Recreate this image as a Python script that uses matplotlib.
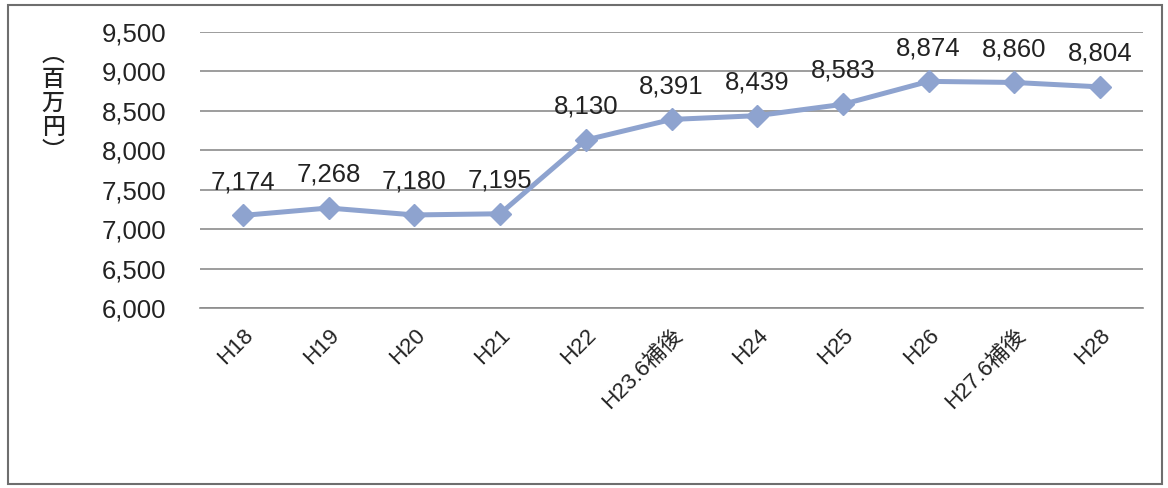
import matplotlib.pyplot as plt
from matplotlib.patches import Rectangle

plt.rcParams['font.family'] = ['Liberation Sans', 'Noto Sans CJK JP', 'DejaVu Sans']

categories = ['H18', 'H19', 'H20', 'H21', 'H22', 'H23.6補後', 'H24', 'H25', 'H26', 'H27.6補後', 'H28']
values = [7174, 7268, 7180, 7195, 8130, 8391, 8439, 8583, 8874, 8860, 8804]
yticks = [6000, 6500, 7000, 7500, 8000, 8500, 9000, 9500]
ylabel_chars = ['︵', '百', '万', '円', '︶']

line_color = '#8ea3cf'
grid_color = '#8c8c8c'
text_color = '#222222'

fig = plt.figure(figsize=(11.68, 4.88), dpi=100)
ax = fig.add_axes([200 / 1168, 1 - 308 / 488, 943 / 1168, 276 / 488])

x = list(range(len(categories)))
ax.plot(x, values, color=line_color, lw=3.6, marker='D', markersize=11,
        markerfacecolor=line_color, markeredgecolor=line_color, zorder=3)

for xi, v in zip(x, values):
    ax.annotate(f'{v:,}', (xi, v), xytext=(0, 24), textcoords='offset points',
                ha='center', va='center', fontsize=18.5, color=text_color)

ax.set_xlim(-0.5, len(categories) - 0.5)
ax.set_ylim(yticks[0], yticks[-1])
ax.set_yticks(yticks)
ax.set_yticklabels([f'{t:,}' for t in yticks], fontsize=18.5, color=text_color)
ax.set_xticks(x)
ax.set_xticklabels(categories, rotation=45, ha='right', va='top',
                   rotation_mode='anchor', fontsize=16, color=text_color)
ax.tick_params(axis='both', length=0)
ax.tick_params(axis='y', pad=24)
ax.tick_params(axis='x', pad=12)
ax.grid(axis='y', color=grid_color, lw=1.2)
ax.set_axisbelow(True)
for s in ax.spines.values():
    s.set_visible(False)
ax.spines['bottom'].set_visible(True)
ax.spines['bottom'].set_color(grid_color)
ax.spines['bottom'].set_linewidth(1.2)

# vertical unit label, one character per row
cjk = ['Noto Sans CJK JP']
label_rows = [55, 79, 103, 127, 151]
for ch, yy in zip(ylabel_chars, label_rows):
    fig.text(53 / 1168, 1 - yy / 488, ch, ha='center', va='center',
             fontsize=16.5, fontweight='medium', color=text_color, family=cjk)

fig.patches.append(Rectangle((8 / 1168, 4 / 488), 1154 / 1168, 479 / 488,
                             transform=fig.transFigure, fill=False,
                             edgecolor='#6e6e6e', lw=1.5))

fig.savefig('out.png', dpi=100)
